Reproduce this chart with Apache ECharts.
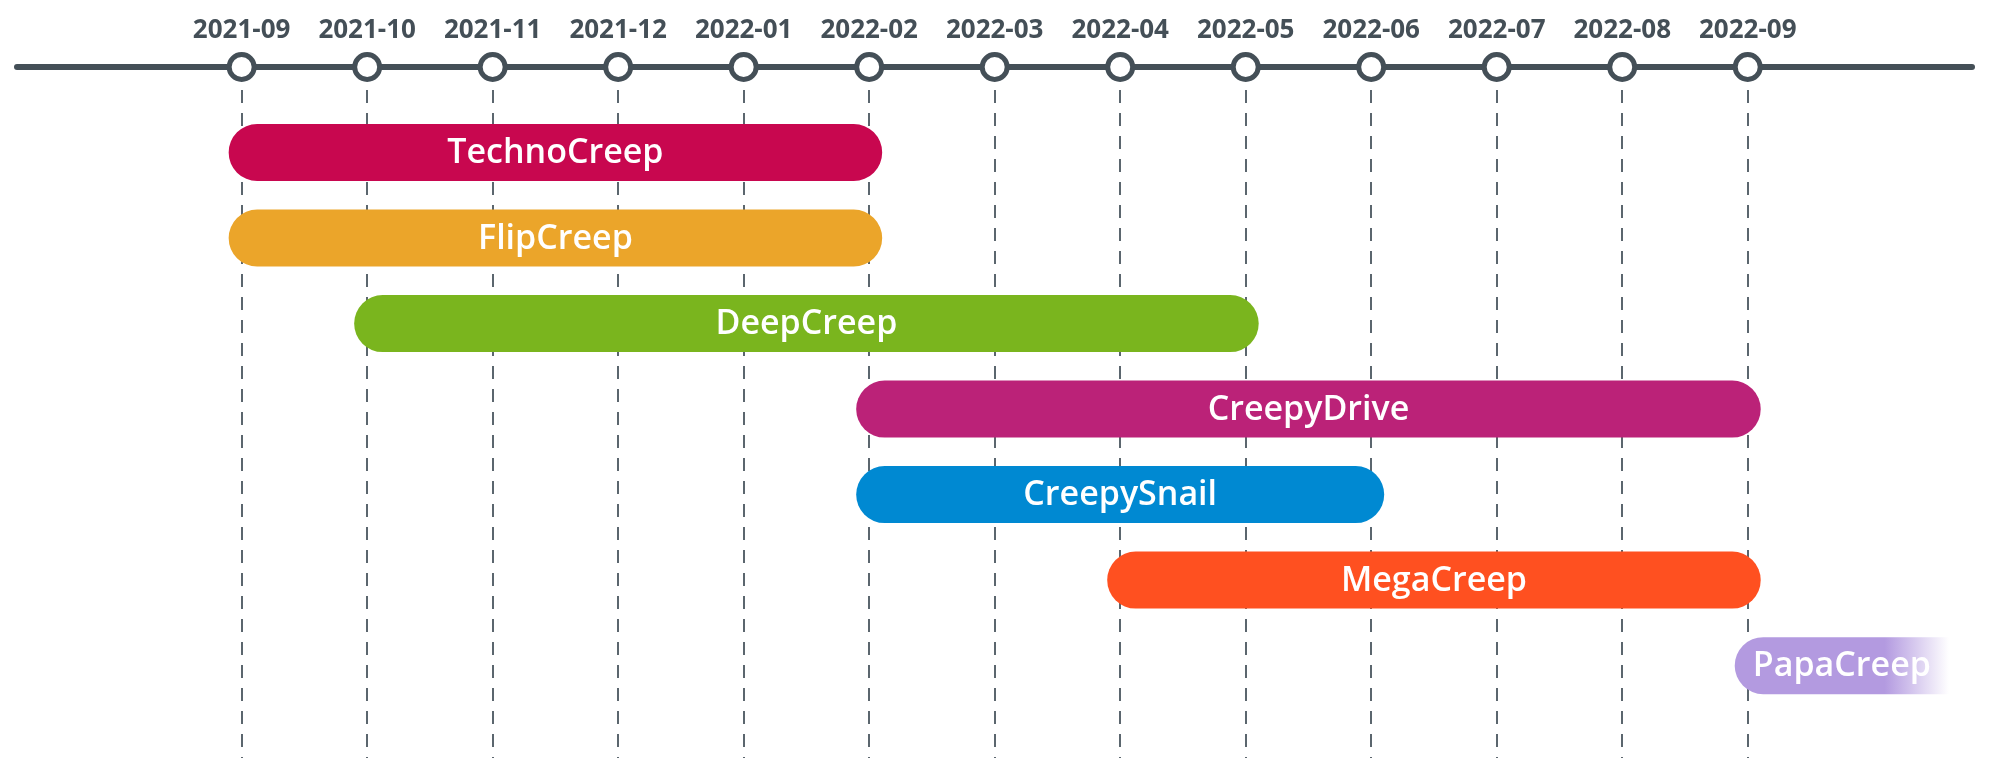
<!DOCTYPE html>
<html>
<head>
<meta charset="utf-8">
<script src="https://cdn.jsdelivr.net/npm/echarts@6/dist/echarts.min.js"></script>
<style>
html,body{margin:0;padding:0;background:#fff;}
#chart{width:2000px;height:758px;}
</style>
</head>
<body>
<div id="chart"></div>
<script>
// Timeline months (tick labels), index = month offset
const months = ['2021-09','2021-10','2021-11','2021-12','2022-01','2022-02','2022-03','2022-04','2022-05','2022-06','2022-07','2022-08','2022-09'];
// Projects (one row each)
const projects = ['TechnoCreep','FlipCreep','DeepCreep','CreepyDrive','CreepySnail','MegaCreep','PapaCreep'];
// Start / end month index for each project
const startMonth = [0, 0, 1, 5, 5, 7, 12];
const endMonth   = [5, 5, 8, 12, 9, 12, 13.5];
// Ongoing (fades out to the right)
const ongoing = [false, false, false, false, false, false, true];

const colors = ['#c8074f','#eba52a','#7ab51e','#bb2278','#0089d2','#ff5020','#b39ae0'];
const axisColor = '#444f57';

const chart = echarts.init(document.getElementById('chart'), null, {renderer:'canvas'});

const barData = projects.map((p,i)=>[startMonth[i], endMonth[i], i+1, p]);
const tickData = months.map((m,i)=>[i, 0, m]);

const option = {
  animation: false,
  backgroundColor: '#fff',
  grid: {left: 17, right: 28, top: 67, bottom: 0},
  xAxis: {
    type: 'value', position: 'top',
    min: -1.79, max: 13.787,
    axisLine: {show: true, onZero: false, lineStyle: {color: axisColor, width: 6, cap: 'round'}},
    axisTick: {show: false}, axisLabel: {show: false}, splitLine: {show: false}
  },
  yAxis: {
    type: 'value', inverse: true, min: 0, max: 8.08, show: false
  },
  series: [
    {
      type: 'scatter', z: 1, data: [], silent: true,
      markLine: {
        silent: true, symbol: 'none', animation: false,
        label: {show: false},
        lineStyle: {color: '#5b666e', width: 2, type: [13, 10]},
        data: months.map((m,i)=>({xAxis: i}))
      }
    },
    {
      type: 'custom', z: 5,
      renderItem: function(params, api){
        const i = params.dataIndex;
        const p1 = api.coord([api.value(0), api.value(2)]);
        const p2 = api.coord([api.value(1), api.value(2)]);
        const h = 57, pad = 13;
        const x = p1[0] - pad, w = p2[0] - p1[0] + 2*pad;
        let fill = colors[i];
        if (ongoing[i]) {
          fill = new echarts.graphic.LinearGradient(0,0,1,0,[
            {offset:0, color: colors[i]},
            {offset:0.7, color: colors[i]},
            {offset:1, color: 'rgba(179,154,224,0)'}
          ]);
        }
        return {
          type: 'group',
          children: [
            {
              type: 'rect',
              shape: {x: x, y: p1[1]-h/2, width: w, height: h, r: ongoing[i] ? [h/2,0,0,h/2] : h/2},
              style: {fill: fill}
            },
            {
              type: 'text',
              style: {
                x: x + w/2, y: p1[1] + 1,
                text: api.value(3),
                fill: '#fff',
                font: '600 34px "Open Sans", sans-serif',
                align: 'center', verticalAlign: 'middle'
              }
            }
          ]
        };
      },
      encode: {x: [0,1], y: 2},
      data: barData
    },
    {
      type: 'scatter', z: 10,
      symbol: 'circle', symbolSize: 25,
      itemStyle: {color: '#fff', borderColor: axisColor, borderWidth: 5, opacity: 1},
      label: {
        show: true, position: 'top', distance: 8,
        formatter: p => p.data[2],
        color: axisColor,
        fontFamily: 'Open Sans', fontWeight: 700, fontSize: 26
      },
      data: tickData
    }
  ]
};
chart.setOption(option);
</script>
</body>
</html>
